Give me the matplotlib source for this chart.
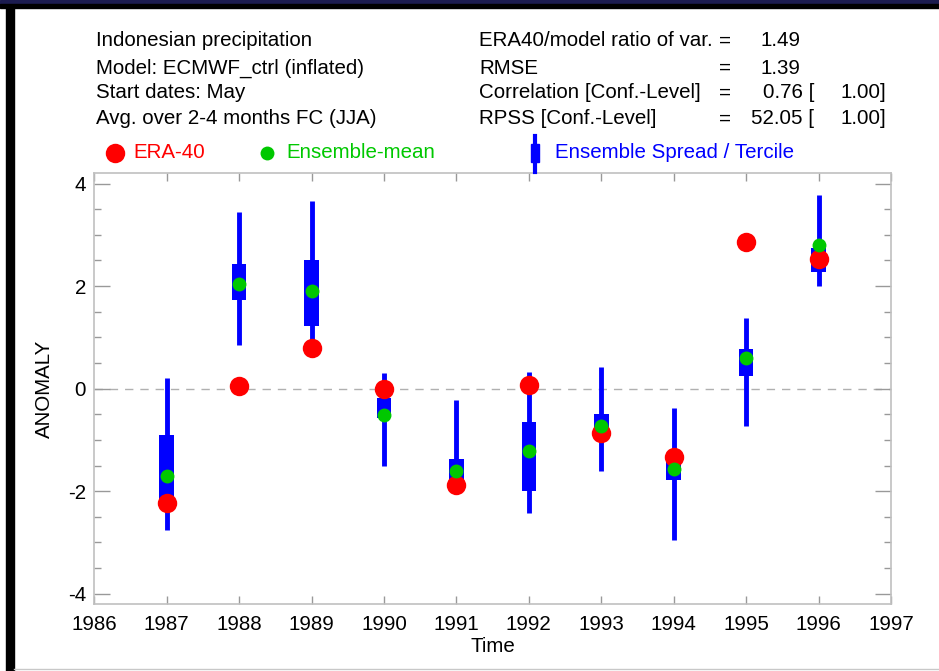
import matplotlib
matplotlib.use("Agg")
import matplotlib.pyplot as plt
from matplotlib.patches import Rectangle
from matplotlib.lines import Line2D
import numpy as np

plt.rcParams['font.family'] = ['Liberation Sans', 'DejaVu Sans']
plt.rcParams['axes.unicode_minus'] = False

# data
years = [1987, 1988, 1989, 1990, 1991, 1992, 1993, 1994, 1995, 1996]
era40 = [-2.23, 0.06, 0.80, 0.00, -1.87, 0.08, -0.87, -1.33, 2.86, 2.52]
ens_mean = [-1.70, 2.04, 1.90, -0.51, -1.60, -1.22, -0.72, -1.57, 0.60, 2.80]
spread_min = [-2.75, 0.85, 0.78, -1.51, -1.95, -2.43, -1.60, -2.95, -0.72, 2.00]
spread_max = [0.21, 3.44, 3.66, 0.31, -0.23, 0.32, 0.43, -0.38, 1.37, 3.77]
tercile_low = [-2.15, 1.72, 1.23, -0.57, -1.85, -2.00, -0.95, -1.78, 0.24, 2.27]
tercile_high = [-0.90, 2.44, 2.50, -0.18, -1.38, -0.66, -0.50, -1.30, 0.78, 2.75]

header_left = ["Indonesian precipitation",
               "Model: ECMWF_ctrl (inflated)",
               "Start dates: May",
               "Avg. over 2-4 months FC (JJA)"]
header_right = ["ERA40/model ratio of var.", "RMSE",
                "Correlation [Conf.-Level]", "RPSS [Conf.-Level]"]
header_vals = ["1.49", "1.39", "0.76", "52.05"]
header_conf = [None, None, "1.00]", "1.00]"]

RED = "#ff0000"
GREEN = "#00c800"
BLUE = "#0000ff"
W, H = 939, 671
FS = 14.8

fig = plt.figure(figsize=(W / 100, H / 100), dpi=100, facecolor="white")

# frame decorations of the original screenshot
fig.add_artist(Rectangle((0, 1 - 4 / H), 1, 4 / H, transform=fig.transFigure, color="#1c1c50"))
fig.add_artist(Rectangle((0, 1 - 8 / H), 1, 4 / H, transform=fig.transFigure, color="black"))
fig.add_artist(Rectangle((6 / W, 0), 8 / W, 1 - 8 / H, transform=fig.transFigure, color="black"))
fig.add_artist(Line2D([14 / W, 1], [2 / H, 2 / H], transform=fig.transFigure, color="#c8c8c8", lw=1))

ax = fig.add_axes([94.3 / W, 1 - 604 / H, (891 - 94.3) / W, (604 - 173.3) / H])

ax.axhline(0, color="#b0b0b0", lw=1, ls=(0, (6, 5)), zorder=1)
ax.vlines(years, spread_min, spread_max, color=BLUE, lw=3.5, zorder=2)
ax.bar(years, np.array(tercile_high) - np.array(tercile_low), bottom=tercile_low,
       width=0.2, color=BLUE, zorder=3)
ax.plot(years, era40, "o", color=RED, ms=14, mec="none", zorder=4)
ax.plot(years, ens_mean, "o", color=GREEN, ms=10, mec="none", zorder=5)

ax.set_xlim(1986, 1997)
ax.set_ylim(-4.2, 4.2)
ax.set_xticks(range(1986, 1998))
ax.set_yticks([-4, -2, 0, 2, 4])
ax.set_yticks(np.arange(-4, 4.01, 0.5), minor=True)
ax.tick_params(axis="both", which="both", direction="in", colors="#999999",
               labelcolor="black", labelsize=FS, top=True, right=True)
ax.tick_params(axis="y", which="major", length=11.5, width=1, pad=6)
ax.tick_params(axis="y", which="minor", length=5, width=1)
ax.tick_params(axis="x", which="major", length=6, width=1, pad=8)
for s in ax.spines.values():
    s.set_color("#c0c0c0")
    s.set_linewidth(1.2)

ax.set_xlabel("Time", fontsize=FS, labelpad=2)
ax.set_ylabel("ANOMALY", fontsize=FS, labelpad=10)

# header text
rows = [41, 68, 93, 119]
for i, y in enumerate(rows):
    fy = 1 - y / H
    fig.text(96 / W, fy, header_left[i], fontsize=FS, va="center")
    fig.text(479 / W, fy, header_right[i], fontsize=FS, va="center")
    fig.text(719 / W, fy, "=", fontsize=FS, va="center")
    if header_conf[i] is None:
        fig.text(800 / W, fy, header_vals[i], fontsize=FS, va="center", ha="right")
    else:
        fig.text(814 / W, fy, header_vals[i] + " [", fontsize=FS, va="center", ha="right")
        fig.text(886 / W, fy, header_conf[i], fontsize=FS, va="center", ha="right")

# legend row
ly = 1 - 153 / H
fig.add_artist(Line2D([115 / W], [ly], transform=fig.transFigure, marker="o",
                      color=RED, ms=14, mec="none"))
fig.text(133 / W, ly, "ERA-40", color=RED, fontsize=FS, va="center")
fig.add_artist(Line2D([267 / W], [ly], transform=fig.transFigure, marker="o",
                      color=GREEN, ms=10, mec="none"))
fig.text(286 / W, ly, "Ensemble-mean", color=GREEN, fontsize=FS, va="center")
fig.add_artist(Line2D([535 / W, 535 / W], [1 - 136 / H, 1 - 172 / H],
                      transform=fig.transFigure, color=BLUE, lw=3))
fig.add_artist(Rectangle((531 / W, 1 - 162 / H), 8 / W, 18 / H,
                         transform=fig.transFigure, color=BLUE))
fig.text(555 / W, ly, "Ensemble Spread / Tercile", color=BLUE, fontsize=FS, va="center")

fig.savefig("out.png", dpi=100, facecolor="white")
